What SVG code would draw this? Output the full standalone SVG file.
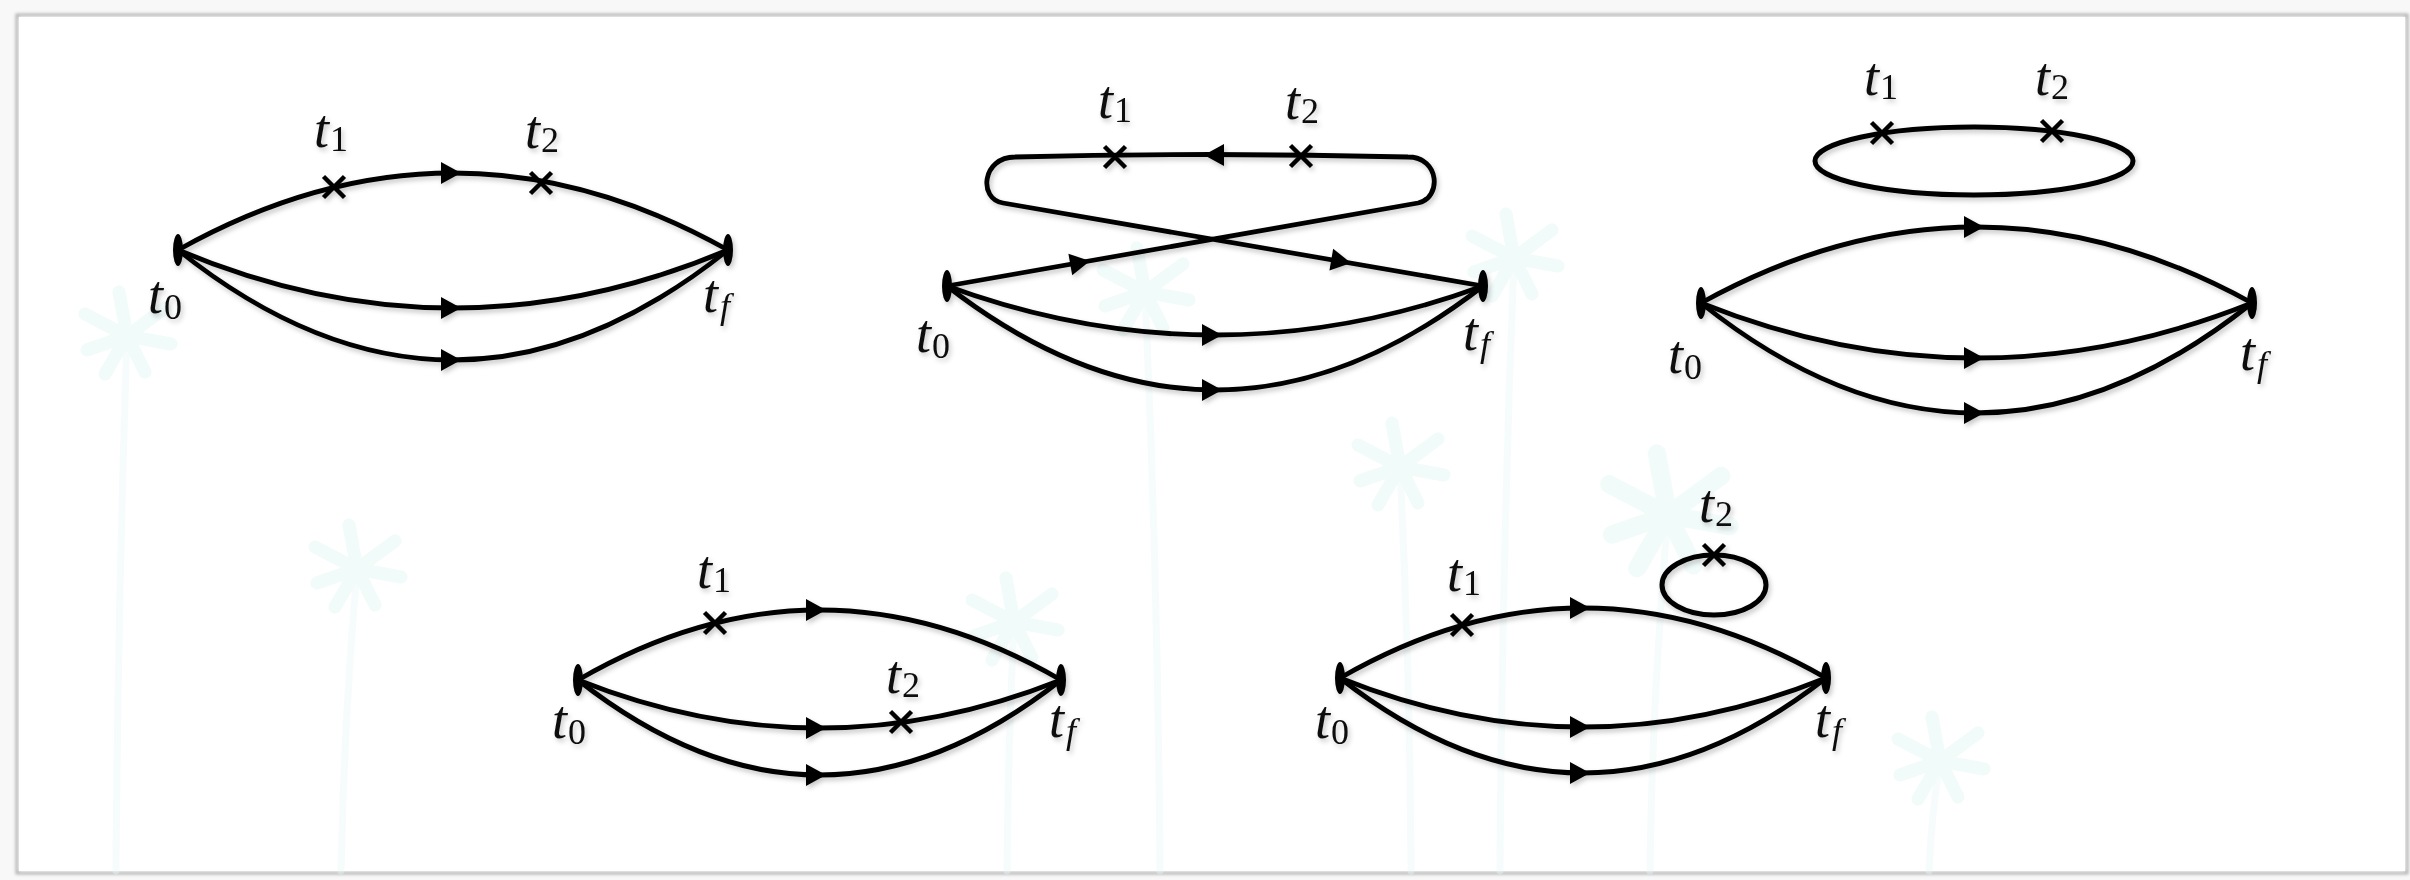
<svg xmlns="http://www.w3.org/2000/svg" xmlns:xlink="http://www.w3.org/1999/xlink" width="2410" height="880" viewBox="0 0 2410 880">
<style>
.ln{fill:none;stroke:#000;stroke-width:4.8;stroke-linecap:round;stroke-linejoin:round}
.lp{fill:none;stroke:#000;stroke-width:5}
.cr{stroke:#000;stroke-width:4.5;stroke-linecap:butt}
.lb{font-family:"Liberation Serif","DejaVu Serif",serif;font-size:54px;font-style:italic;fill:#111}
.sb{font-size:36px;font-style:normal}
.sbi{font-size:36px;font-style:italic}
.tr{stroke:#e6f8f6;stroke-width:7;fill:none;stroke-linecap:round}
.fr{stroke:#dcf5f1;stroke-width:13;fill:none;stroke-linecap:round}
</style>
<defs>
<filter id="sh" x="-5%" y="-10%" width="110%" height="125%">
<feDropShadow dx="2" dy="3" stdDeviation="2.5" flood-color="#000" flood-opacity="0.22"/>
</filter>
<filter id="fs" x="-2%" y="-2%" width="104%" height="104%">
<feGaussianBlur stdDeviation="1.5"/>
</filter>
<path id="ah" d="M0,0 L-20,-11 L-20,11 Z" fill="#000"/>
<ellipse id="em" rx="5" ry="16" fill="#000"/>
<path id="cx" d="M-10.5,-10.5 L10.5,10.5 M-10.5,10.5 L10.5,-10.5" class="cr"/>
<g id="crown">
<path class="fr" d="M0,0 L-42,-22 M0,0 L-40,14 M0,0 L38,-28 M0,0 L44,8 M0,0 L-8,-44 M0,0 L18,36 M0,0 L-22,38"/>
</g>
</defs>

<g id="background">
<rect x="0" y="0" width="2410" height="880" fill="#f8f8f8"/>
<line x1="10.5" y1="6" x2="10.5" y2="880" stroke="#c4c4c4" stroke-width="3" filter="url(#fs)"/>
<rect x="17" y="15" width="2390" height="858" fill="#fff" stroke="#b3b3b3" stroke-width="3" filter="url(#fs)"/>
<rect x="19" y="17" width="2386" height="854" fill="#fff"/>
<g id="palms" opacity="0.4">
<path class="tr" d="M127,336 Q118,600 116,871"/>
<use xlink:href="#crown" transform="translate(127,336)"/>
<path class="tr" d="M357,569 Q344,720 341,871"/>
<use xlink:href="#crown" transform="translate(357,569)"/>
<path class="tr" d="M1145,292 Q1158,580 1160,871"/>
<use xlink:href="#crown" transform="translate(1145,292)"/>
<path class="tr" d="M1514,258 Q1502,560 1500,871"/>
<use xlink:href="#crown" transform="translate(1514,258)"/>
<path class="tr" d="M1400,467 Q1410,670 1411,871"/>
<use xlink:href="#crown" transform="translate(1400,467)"/>
<path class="tr" d="M1668,515 Q1652,700 1650,871"/>
<use xlink:href="#crown" transform="translate(1668,515) scale(1.4)"/>
<path class="tr" d="M1014,622 Q1008,750 1007,871"/>
<use xlink:href="#crown" transform="translate(1014,622)"/>
<path class="tr" d="M1940,761 Q1931,820 1929,871"/>
<use xlink:href="#crown" transform="translate(1940,761)"/>
</g>
</g>

<!-- Diagram 1 -->
<g id="diagram1" filter="url(#sh)">
<g id="d1-connectors">
<path class="ln" d="M178,250 Q453,96 728,250"/>
<path class="ln" d="M178,250 Q453,366 728,250"/>
<path class="ln" d="M178,250 Q453,470 728,250"/>
<use xlink:href="#ah" transform="translate(461,173)"/>
<use xlink:href="#ah" transform="translate(461,308)"/>
<use xlink:href="#ah" transform="translate(461,360)"/>
</g>
<g id="d1-t0"><use xlink:href="#em" x="178" y="250"/><text class="lb" x="148" y="313">t<tspan class="sb" dx="1" dy="6">0</tspan></text></g>
<g id="d1-tf"><use xlink:href="#em" x="728" y="250"/><text class="lb" x="703" y="312">t<tspan class="sbi" dx="2" dy="6">f</tspan></text></g>
<g id="d1-t1"><use xlink:href="#cx" transform="translate(334,187)"/><text class="lb" x="314" y="147">t<tspan class="sb" dx="1" dy="4">1</tspan></text></g>
<g id="d1-t2"><use xlink:href="#cx" transform="translate(541,183)"/><text class="lb" x="525" y="148">t<tspan class="sb" dx="1" dy="4">2</tspan></text></g>
</g>

<!-- Diagram 2 -->
<g id="diagram2" filter="url(#sh)">
<g id="d2-connectors">
<path class="ln" d="M947,286 Q1215,384 1483,286"/>
<path class="ln" d="M947,286 Q1215,494 1483,286"/>
<path class="ln" d="M947,286 L1418,203 C1442,198 1440,157 1408,157 Q1211,152 1015,157 C982,157 978,199 1003,203 L1483,286"/>
<use xlink:href="#ah" transform="translate(1222,335)"/>
<use xlink:href="#ah" transform="translate(1222,390)"/>
<use xlink:href="#ah" transform="translate(1090,261) rotate(-10)"/>
<use xlink:href="#ah" transform="translate(1351,263) rotate(9.8)"/>
<use xlink:href="#ah" transform="translate(1204,155) rotate(180)"/>
</g>
<g id="d2-t0"><use xlink:href="#em" x="947" y="286"/><text class="lb" x="916" y="352">t<tspan class="sb" dx="1" dy="6">0</tspan></text></g>
<g id="d2-tf"><use xlink:href="#em" x="1483" y="286"/><text class="lb" x="1463" y="350">t<tspan class="sbi" dx="2" dy="6">f</tspan></text></g>
<g id="d2-t1"><use xlink:href="#cx" transform="translate(1115,157)"/><text class="lb" x="1098" y="118">t<tspan class="sb" dx="1" dy="4">1</tspan></text></g>
<g id="d2-t2"><use xlink:href="#cx" transform="translate(1301,156)"/><text class="lb" x="1285" y="119">t<tspan class="sb" dx="1" dy="4">2</tspan></text></g>
</g>

<!-- Diagram 3 -->
<g id="diagram3" filter="url(#sh)">
<g id="d3-connectors">
<path class="ln" d="M1701,303 Q1976,151 2252,303"/>
<path class="ln" d="M1701,303 Q1976,413 2252,303"/>
<path class="ln" d="M1701,303 Q1976,523 2252,303"/>
<use xlink:href="#ah" transform="translate(1984,227)"/>
<use xlink:href="#ah" transform="translate(1984,358)"/>
<use xlink:href="#ah" transform="translate(1984,413)"/>
<ellipse class="lp" cx="1974" cy="161" rx="159" ry="34"/>
</g>
<g id="d3-t0"><use xlink:href="#em" x="1701" y="303"/><text class="lb" x="1668" y="373">t<tspan class="sb" dx="1" dy="6">0</tspan></text></g>
<g id="d3-tf"><use xlink:href="#em" x="2252" y="303"/><text class="lb" x="2240" y="370">t<tspan class="sbi" dx="2" dy="6">f</tspan></text></g>
<g id="d3-t1"><use xlink:href="#cx" transform="translate(1882,133)"/><text class="lb" x="1864" y="95">t<tspan class="sb" dx="1" dy="4">1</tspan></text></g>
<g id="d3-t2"><use xlink:href="#cx" transform="translate(2052,131)"/><text class="lb" x="2035" y="95">t<tspan class="sb" dx="1" dy="4">2</tspan></text></g>
</g>

<!-- Diagram 4 -->
<g id="diagram4" filter="url(#sh)">
<g id="d4-connectors">
<path class="ln" d="M578,680 Q819.5,540 1061,680"/>
<path class="ln" d="M578,680 Q819.5,776 1061,680"/>
<path class="ln" d="M578,680 Q819.5,870 1061,680"/>
<use xlink:href="#ah" transform="translate(826,610)"/>
<use xlink:href="#ah" transform="translate(826,728)"/>
<use xlink:href="#ah" transform="translate(826,775)"/>
</g>
<g id="d4-t0"><use xlink:href="#em" x="578" y="680"/><text class="lb" x="552" y="738">t<tspan class="sb" dx="1" dy="6">0</tspan></text></g>
<g id="d4-tf"><use xlink:href="#em" x="1061" y="680"/><text class="lb" x="1049" y="737">t<tspan class="sbi" dx="2" dy="6">f</tspan></text></g>
<g id="d4-t1"><use xlink:href="#cx" transform="translate(715,623)"/><text class="lb" x="697" y="588">t<tspan class="sb" dx="1" dy="4">1</tspan></text></g>
<g id="d4-t2"><use xlink:href="#cx" transform="translate(901,722)"/><text class="lb" x="886" y="693">t<tspan class="sb" dx="1" dy="4">2</tspan></text></g>
</g>

<!-- Diagram 5 -->
<g id="diagram5" filter="url(#sh)">
<g id="d5-connectors">
<path class="ln" d="M1340,678 Q1583,538 1826,678"/>
<path class="ln" d="M1340,678 Q1583,776 1826,678"/>
<path class="ln" d="M1340,678 Q1583,868 1826,678"/>
<use xlink:href="#ah" transform="translate(1590,608)"/>
<use xlink:href="#ah" transform="translate(1590,727)"/>
<use xlink:href="#ah" transform="translate(1590,773)"/>
<ellipse class="lp" cx="1714" cy="585" rx="52" ry="30"/>
</g>
<g id="d5-t0"><use xlink:href="#em" x="1340" y="678"/><text class="lb" x="1315" y="738">t<tspan class="sb" dx="1" dy="6">0</tspan></text></g>
<g id="d5-tf"><use xlink:href="#em" x="1826" y="678"/><text class="lb" x="1815" y="737">t<tspan class="sbi" dx="2" dy="6">f</tspan></text></g>
<g id="d5-t1"><use xlink:href="#cx" transform="translate(1462,625)"/><text class="lb" x="1447" y="591">t<tspan class="sb" dx="1" dy="4">1</tspan></text></g>
<g id="d5-t2"><use xlink:href="#cx" transform="translate(1714,555)"/><text class="lb" x="1699" y="522">t<tspan class="sb" dx="1" dy="4">2</tspan></text></g>
</g>
</svg>
